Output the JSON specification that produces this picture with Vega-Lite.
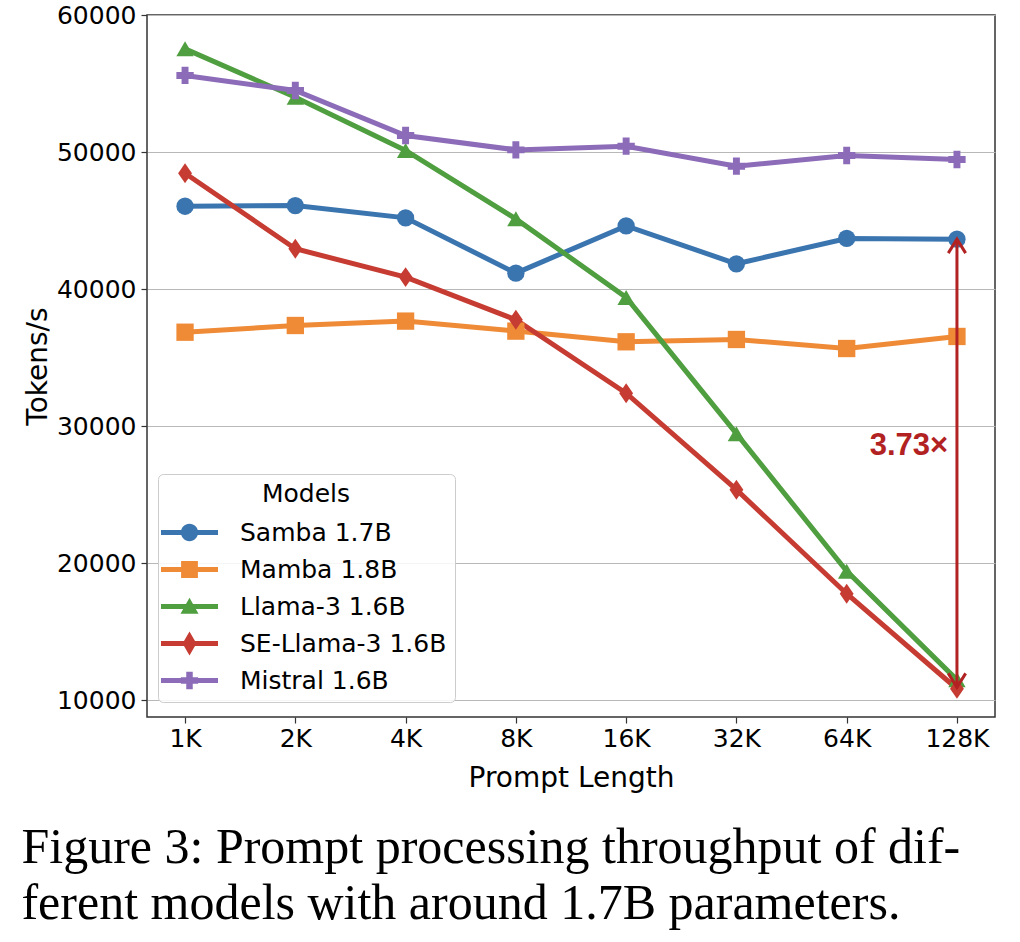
{
  "$schema": "https://vega.github.io/schema/vega-lite/v6.json",
  "autosize": {"type": "none"},
  "width": 848,
  "height": 702,
  "padding": {"left": 147, "top": 15, "right": 25, "bottom": 225},
  "background": "white",
  "config": {
    "font": "DejaVu Sans",
    "view": {"stroke": "#333333", "strokeWidth": 1.5}
  },
  "title": {
    "text": ["Figure 3: Prompt processing throughput of dif-", "ferent models with around 1.7B parameters."],
    "orient": "bottom",
    "anchor": "start",
    "frame": "bounds",
    "font": "Liberation Serif",
    "fontSize": 50,
    "fontWeight": "normal",
    "color": "#000000",
    "lineHeight": 56,
    "offset": 31,
    "dx": -3
  },
  "datasets": {
    "series": [
      {"len": "1K", "model": "Samba 1.7B", "v": 46050},
      {"len": "2K", "model": "Samba 1.7B", "v": 46100},
      {"len": "4K", "model": "Samba 1.7B", "v": 45200},
      {"len": "8K", "model": "Samba 1.7B", "v": 41170},
      {"len": "16K", "model": "Samba 1.7B", "v": 44620},
      {"len": "32K", "model": "Samba 1.7B", "v": 41850},
      {"len": "64K", "model": "Samba 1.7B", "v": 43700},
      {"len": "128K", "model": "Samba 1.7B", "v": 43650},
      {"len": "1K", "model": "Mamba 1.8B", "v": 36860},
      {"len": "2K", "model": "Mamba 1.8B", "v": 37350},
      {"len": "4K", "model": "Mamba 1.8B", "v": 37670},
      {"len": "8K", "model": "Mamba 1.8B", "v": 36940},
      {"len": "16K", "model": "Mamba 1.8B", "v": 36160},
      {"len": "32K", "model": "Mamba 1.8B", "v": 36330},
      {"len": "64K", "model": "Mamba 1.8B", "v": 35670},
      {"len": "128K", "model": "Mamba 1.8B", "v": 36550},
      {"len": "1K", "model": "Llama-3 1.6B", "v": 57530},
      {"len": "2K", "model": "Llama-3 1.6B", "v": 54000},
      {"len": "4K", "model": "Llama-3 1.6B", "v": 50120},
      {"len": "8K", "model": "Llama-3 1.6B", "v": 45130},
      {"len": "16K", "model": "Llama-3 1.6B", "v": 39400},
      {"len": "32K", "model": "Llama-3 1.6B", "v": 29460},
      {"len": "64K", "model": "Llama-3 1.6B", "v": 19430},
      {"len": "128K", "model": "Llama-3 1.6B", "v": 11500},
      {"len": "1K", "model": "SE-Llama-3 1.6B", "v": 48460},
      {"len": "2K", "model": "SE-Llama-3 1.6B", "v": 42950},
      {"len": "4K", "model": "SE-Llama-3 1.6B", "v": 40880},
      {"len": "8K", "model": "SE-Llama-3 1.6B", "v": 37770},
      {"len": "16K", "model": "SE-Llama-3 1.6B", "v": 32410},
      {"len": "32K", "model": "SE-Llama-3 1.6B", "v": 25370},
      {"len": "64K", "model": "SE-Llama-3 1.6B", "v": 17780},
      {"len": "128K", "model": "SE-Llama-3 1.6B", "v": 10850},
      {"len": "1K", "model": "Mistral 1.6B", "v": 55590},
      {"len": "2K", "model": "Mistral 1.6B", "v": 54490},
      {"len": "4K", "model": "Mistral 1.6B", "v": 51210},
      {"len": "8K", "model": "Mistral 1.6B", "v": 50160},
      {"len": "16K", "model": "Mistral 1.6B", "v": 50430},
      {"len": "32K", "model": "Mistral 1.6B", "v": 48970},
      {"len": "64K", "model": "Mistral 1.6B", "v": 49750},
      {"len": "128K", "model": "Mistral 1.6B", "v": 49460}
    ],
    "arrow": [{"len": "128K", "v": 43650, "v2": 10950}],
    "headTop": [{"len": "128K", "v": 43650}],
    "headBottom": [{"len": "128K", "v": 10950}],
    "note": [{"len": "128K", "v": 28550, "label": "3.73×"}]
  },
  "encoding": {
    "x": {
      "field": "len",
      "type": "nominal",
      "scale": {"type": "point", "domain": ["1K", "2K", "4K", "8K", "16K", "32K", "64K", "128K"], "padding": 0.345},
      "axis": {
        "title": "Prompt Length",
        "titleFontSize": 28,
        "titleFontWeight": "normal",
        "titleColor": "#000000",
        "titlePadding": 13,
        "labelFontSize": 25,
        "labelColor": "#000000",
        "labelAngle": 0,
        "labelPadding": 3,
        "tickSize": 6,
        "tickColor": "#333333",
        "tickWidth": 1.2,
        "domain": false,
        "grid": false
      }
    },
    "y": {
      "field": "v",
      "type": "quantitative",
      "scale": {"domain": [8790, 60000], "nice": false, "zero": false},
      "axis": {
        "title": "Tokens/s",
        "titleFontSize": 28,
        "titleFontWeight": "normal",
        "titleColor": "#000000",
        "titlePadding": 4,
        "values": [10000, 20000, 30000, 40000, 50000, 60000],
        "format": "d",
        "labelFontSize": 25,
        "labelColor": "#000000",
        "labelPadding": 5,
        "tickSize": 6,
        "tickColor": "#333333",
        "tickWidth": 1.2,
        "domain": false,
        "grid": true,
        "gridColor": "#b8b8b8",
        "gridWidth": 1
      }
    }
  },
  "layer": [
    {
      "data": {"name": "series"},
      "mark": {"type": "line", "strokeWidth": 5},
      "encoding": {
        "color": {
          "field": "model",
          "type": "nominal",
          "scale": {
            "domain": ["Samba 1.7B", "Mamba 1.8B", "Llama-3 1.6B", "SE-Llama-3 1.6B", "Mistral 1.6B"],
            "range": ["#3a75b0", "#ef8a36", "#4f9e3f", "#c63c32", "#8c6bb8"]
          },
          "legend": null
        }
      }
    },
    {
      "data": {"name": "series"},
      "mark": {"type": "point", "filled": true, "opacity": 1, "size": 300},
      "encoding": {
        "color": {
          "field": "model",
          "type": "nominal",
          "scale": {
            "domain": ["Samba 1.7B", "Mamba 1.8B", "Llama-3 1.6B", "SE-Llama-3 1.6B", "Mistral 1.6B"],
            "range": ["#3a75b0", "#ef8a36", "#4f9e3f", "#c63c32", "#8c6bb8"]
          },
          "legend": null
        },
        "shape": {
          "field": "model",
          "type": "nominal",
          "scale": {
            "domain": ["Samba 1.7B", "Mamba 1.8B", "Llama-3 1.6B", "SE-Llama-3 1.6B", "Mistral 1.6B"],
            "range": ["circle", "square", "triangle-up", "M0,-1.15L0.8,0L0,1.15L-0.8,0Z", "cross"]
          },
          "legend": null
        }
      }
    },
    {
      "data": {"name": "series"},
      "mark": {"type": "point", "filled": true, "opacity": 0, "size": 576},
      "encoding": {
        "color": {
          "field": "model",
          "type": "nominal",
          "scale": {
            "domain": ["Samba 1.7B", "Mamba 1.8B", "Llama-3 1.6B", "SE-Llama-3 1.6B", "Mistral 1.6B"],
            "range": ["#3a75b0", "#ef8a36", "#4f9e3f", "#c63c32", "#8c6bb8"]
          },
          "legend": {
            "title": "Models",
            "orient": "none",
            "legendX": 11,
            "legendY": 459,
            "fillColor": "rgba(255,255,255,0.85)",
            "strokeColor": "#cccccc",
            "cornerRadius": 5,
            "padding": 8,
            "titleFontSize": 25,
            "titleFontWeight": "normal",
            "titleColor": "#000000",
            "titleAnchor": "middle",
            "titlePadding": 13,
            "labelFontSize": 25,
            "labelColor": "#000000",
            "labelLimit": 500,
            "labelOffset": 38,
            "symbolOffset": 11,
            "symbolSize": 576,
            "symbolStrokeWidth": 0,
            "symbolOpacity": 1,
            "rowPadding": 11
          }
        },
        "shape": {
          "field": "model",
          "type": "nominal",
          "scale": {
            "domain": ["Samba 1.7B", "Mamba 1.8B", "Llama-3 1.6B", "SE-Llama-3 1.6B", "Mistral 1.6B"],
            "range": [
              "M-2.375,-0.21L2.375,-0.21L2.375,0.21L-2.375,0.21Z M-0.72,0A0.72,0.72 0 1,1 0.72,0A0.72,0.72 0 1,1 -0.72,0Z",
              "M-2.375,-0.21L2.375,-0.21L2.375,0.21L-2.375,0.21Z M-0.7,-0.7L0.7,-0.7L0.7,0.7L-0.7,0.7Z",
              "M-2.375,-0.21L2.375,-0.21L2.375,0.21L-2.375,0.21Z M0,-0.72L0.75,0.6L-0.75,0.6Z",
              "M-2.375,-0.21L2.375,-0.21L2.375,0.21L-2.375,0.21Z M0,-1L0.58,0L0,1L-0.58,0Z",
              "M-2.375,-0.21L2.375,-0.21L2.375,0.21L-2.375,0.21Z M-0.27,-0.72L0.27,-0.72L0.27,-0.27L0.72,-0.27L0.72,0.27L0.27,0.27L0.27,0.72L-0.27,0.72L-0.27,0.27L-0.72,0.27L-0.72,-0.27L-0.27,-0.27Z"
            ]
          },
          "legend": {
            "title": "Models",
            "orient": "none",
            "legendX": 11,
            "legendY": 459,
            "fillColor": "rgba(255,255,255,0.85)",
            "strokeColor": "#cccccc",
            "cornerRadius": 5,
            "padding": 8,
            "titleFontSize": 25,
            "titleFontWeight": "normal",
            "titleColor": "#000000",
            "titleAnchor": "middle",
            "titlePadding": 13,
            "labelFontSize": 25,
            "labelColor": "#000000",
            "labelLimit": 500,
            "labelOffset": 38,
            "symbolOffset": 11,
            "symbolSize": 576,
            "symbolStrokeWidth": 0,
            "symbolOpacity": 1,
            "rowPadding": 11
          }
        }
      }
    },
    {
      "data": {"name": "arrow"},
      "mark": {"type": "rule", "color": "#b22222", "strokeWidth": 3},
      "encoding": {"y2": {"field": "v2"}}
    },
    {
      "data": {"name": "headTop"},
      "mark": {"type": "point", "shape": "M-0.62,1L0,0L0.62,1", "size": 784, "filled": false, "opacity": 1, "stroke": "#b22222", "strokeWidth": 3, "strokeJoin": "miter"}
    },
    {
      "data": {"name": "headBottom"},
      "mark": {"type": "point", "shape": "M-0.62,-1L0,0L0.62,-1", "size": 784, "filled": false, "opacity": 1, "stroke": "#b22222", "strokeWidth": 3, "strokeJoin": "miter"}
    },
    {
      "data": {"name": "note"},
      "mark": {"type": "text", "font": "Liberation Sans", "fontWeight": "bold", "fontSize": 31, "color": "#b22222", "align": "center", "baseline": "middle", "dx": -48},
      "encoding": {"text": {"field": "label"}}
    }
  ],
  "resolve": {"scale": {"color": "independent", "shape": "independent"}}
}
